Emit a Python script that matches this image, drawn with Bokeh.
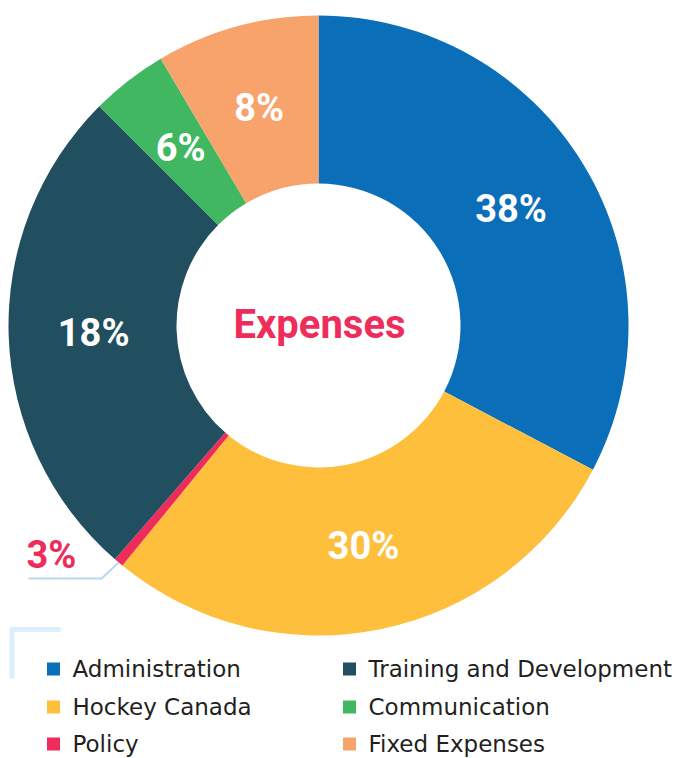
import numpy as np
from bokeh.plotting import figure
from bokeh.models import Range1d, ColumnDataSource
from bokeh.core.properties import value
from bokeh.embed import file_html
from bokeh.resources import INLINE

# ---- data (clockwise from 12 o'clock) ----
categories = ["Administration", "Hockey Canada", "Policy",
              "Training and Development", "Communication", "Fixed Expenses"]
shares = [32.7, 28.2, 0.5, 26.1, 4.0, 8.5]          # drawn slice sizes
pct_labels = ["38%", "30%", "3%", "18%", "6%", "8%"]  # printed labels
colors = ["#0a6eb9", "#fdbf3c", "#ee2b5a", "#214f5f", "#40b760", "#f7a36b"]
legend_order = ["Administration", "Training and Development",
                "Hockey Canada", "Communication",
                "Policy", "Fixed Expenses"]
center_title = "Expenses"

W, H = 696, 758
# data coordinates: x = page x, y = 758 - page y
p = figure(width=W, height=H, output_backend="svg", toolbar_location=None,
           x_range=Range1d(0, W), y_range=Range1d(0, H),
           min_border=0, outline_line_color=None)
p.axis.visible = False
p.grid.visible = False
p.background_fill_color = "white"
p.border_fill_color = "white"

def Y(py):
    return H - py

cx, cy = 318, Y(325)
r_out, r_in = 310, 142

fr = np.array(shares) / np.sum(shares)
cum = np.cumsum(fr)
starts = np.pi / 2 - 2 * np.pi * (cum - fr)
ends = np.pi / 2 - 2 * np.pi * cum
mids = (starts + ends) / 2

src = ColumnDataSource(dict(start=starts, end=ends, color=colors))
p.annular_wedge(x=cx, y=cy, inner_radius=r_in, outer_radius=r_out,
                start_angle="start", end_angle="end", direction="clock",
                fill_color="color", line_color=None, source=src)

narrow = value("Roboto")

# inner labels
r_lab = 225
inside = [i for i in range(len(categories)) if fr[i] > 0.02]
p.text(x=[cx + r_lab * np.cos(mids[i]) for i in inside],
       y=[cy + r_lab * np.sin(mids[i]) for i in inside],
       text=[pct_labels[i] for i in inside],
       text_font=narrow, text_font_style="bold", text_font_size="38px",
       text_color="white", text_align="center", text_baseline="middle")

# outside label for the tiny slice with leader line
small = [i for i in range(len(categories)) if fr[i] <= 0.02]
for i in small:
    ex = cx + r_out * np.cos(mids[i])
    ey = cy + r_out * np.sin(mids[i])
    p.line(x=[ex, ex - 17, 28], y=[ey, ey - 16, ey - 16],
           line_color="#b9d8ec", line_width=2)
    p.text(x=[26], y=[ey + 7], text=[pct_labels[i]],
           text_font=narrow, text_font_style="bold", text_font_size="38px",
           text_color=colors[i], text_align="left", text_baseline="middle")

# center title
p.text(x=[cx + 1], y=[cy + 1], text=[center_title],
       text_font=narrow, text_font_style="bold", text_font_size="40px",
       text_color="#ee2d5b", text_align="center", text_baseline="middle")

# decorative bracket
p.line(x=[11.5, 11.5, 58], y=[Y(676), Y(629), Y(629)],
       line_color="#dcf0fb", line_width=5, line_cap="round", line_join="round")

# legend
col_x = [53, 349]
row_y = [Y(668.5), Y(706.5), Y(743.5)]
lx, ly, lc, tx = [], [], [], []
for k, name in enumerate(legend_order):
    col, row = k % 2, k // 2
    lx.append(col_x[col])
    ly.append(row_y[row])
    lc.append(colors[categories.index(name)])
    tx.append(col_x[col] + 19)
p.rect(x=lx, y=ly, width=13, height=13, fill_color=lc, line_color=None)
p.text(x=tx, y=ly, text=legend_order, text_font=value("DejaVu Sans"),
       text_font_size="23px", text_color="#231f20",
       text_align="left", text_baseline="middle")

open("out.html", "w").write(file_html(p, INLINE))
